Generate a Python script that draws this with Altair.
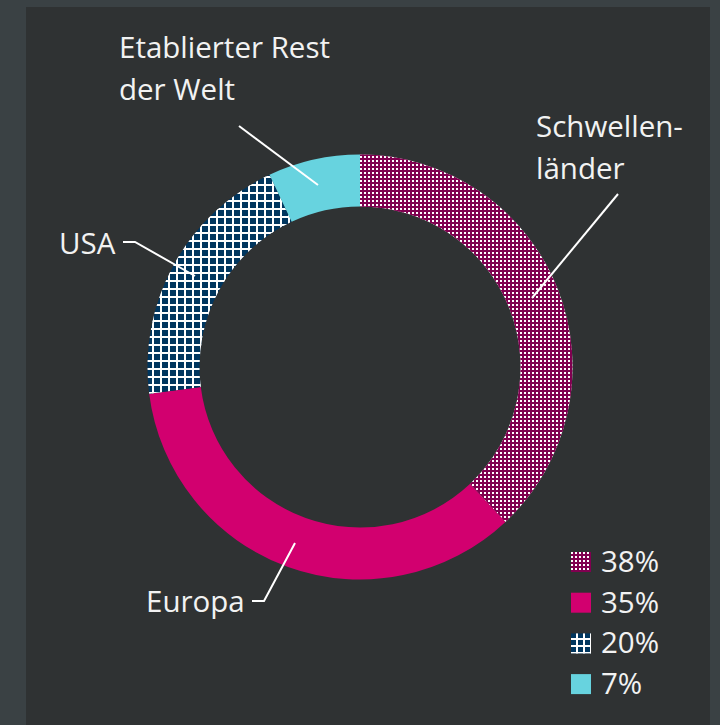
import altair as alt
import pandas as pd
import numpy as np

# ---------------- data ----------------
regions = ["Schwellenländer", "Europa", "USA", "Etablierter Rest der Welt"]
shares = [38, 35, 20, 7]
legend_labels = ["38%", "35%", "20%", "7%"]
callout_texts = ["Schwellen-\nländer", "Europa", "USA", "Etablierter Rest\nder Welt"]

# ---------------- layout / style ----------------
W, H = 720, 725
BG_OUTER = "#3a4144"
BG_PANEL = "#2f3233"
PANEL = (26, 710, 7, 725)
CX, CY = 360, 367
R_OUT, R_IN = 212.5, 160.5
MAGENTA = "#d2006f"
DOT_BASE = "#800050"
NAVY = "#00365f"
TEAL = "#67d3df"
WHITE = "#ffffff"
TEXT = "#f2f2f2"
CLEAR = "rgba(255,255,255,0)"
FONT = "Open Sans"
FS = 29.5
LINE_H = 41.5

callout_pos = [(536, 137), (146, 612), (59, 254), (119, 58)]
leader_pts = [
    [(618, 194), (532, 298)],
    [(252, 601), (264, 601), (295, 543)],
    [(123, 242), (135, 242), (195, 276)],
    [(239, 126), (318, 185)],
]
LEG_X, LEG_Y0, LEG_DY, LEG_SQ, LEG_TX = 571, 552, 40.7, 20, 601

XS = alt.Scale(domain=[0, W], range=[0, W], nice=False, zero=False)
YS = alt.Scale(domain=[0, H], range=[0, H], nice=False, zero=False)


def stripes(lo, hi, period, on_len, on_color, off_color, axis, phase=0.0):
    """linear gradient with hard stops -> stripes aligned to page pixels"""
    L = float(hi - lo)
    stops = []
    k = int(np.floor((lo - phase) / period)) - 1
    while phase + k * period < hi:
        s = phase + k * period
        for a, b, c in ((s, s + on_len, on_color), (s + on_len, s + period, off_color)):
            a2, b2 = max(a, lo), min(b, hi)
            if b2 > a2:
                stops.append({"offset": float(round((a2 - lo) / L, 5)), "color": c})
                stops.append({"offset": float(round((b2 - lo) / L, 5)), "color": c})
        k += 1
    return {
        "gradient": "linear",
        "stops": stops,
        "x1": 0, "y1": 0,
        "x2": 1 if axis == "x" else 0,
        "y2": 1 if axis == "y" else 0,
    }


cum = [float(v) for v in np.cumsum(shares)]
starts = [c - s for c, s in zip(cum, shares)]


def slice_bbox(i):
    t = np.linspace(starts[i], cum[i], 4000) / 100.0 * 2 * np.pi
    xs = np.concatenate([CX + r * np.sin(t) for r in (R_IN, R_OUT)])
    ys = np.concatenate([CY - r * np.cos(t) for r in (R_IN, R_OUT)])
    return float(xs.min()), float(xs.max()), float(ys.min()), float(ys.max())


slices = pd.DataFrame({"region": regions, "share": shares, "order": list(range(len(regions)))})
theta_scale = alt.Scale(domain=[0, 100], range=[0, float(2 * np.pi)])


def ring(region, fill):
    return (
        alt.Chart(slices)
        .transform_window(cum="sum(share)", sort=[alt.SortField("order")], frame=[None, 0])
        .transform_calculate(start="datum.cum - datum.share")
        .transform_filter(alt.datum.region == region)
        .mark_arc(radius=R_OUT, radius2=R_IN, fill=fill, strokeWidth=0)
        .encode(
            theta=alt.Theta("start:Q", scale=theta_scale, stack=None),
            theta2="cum:Q",
            x=alt.value(CX),
            y=alt.value(CY),
        )
    )


layers = []

# panel background
layers.append(
    alt.Chart(pd.DataFrame({"a": [0]}))
    .mark_rect(color=BG_PANEL)
    .encode(x=alt.value(PANEL[0]), x2=alt.value(PANEL[1]), y=alt.value(PANEL[2]), y2=alt.value(PANEL[3]))
)

# Schwellenländer: dotted (white dots on dark magenta)
x0, x1, y0, y1 = slice_bbox(0)
layers.append(ring(regions[0], WHITE))
layers.append(ring(regions[0], stripes(x0, x1, 4, 2, CLEAR, DOT_BASE, "x")))
layers.append(ring(regions[0], stripes(y0, y1, 4, 2, CLEAR, DOT_BASE, "y")))
# Europa: solid magenta
layers.append(ring(regions[1], MAGENTA))
# USA: white grid on navy
x0, x1, y0, y1 = slice_bbox(2)
layers.append(ring(regions[2], NAVY))
layers.append(ring(regions[2], stripes(x0, x1, 8, 2, WHITE, CLEAR, "x")))
layers.append(ring(regions[2], stripes(y0, y1, 8, 2, WHITE, CLEAR, "y")))
# Rest der Welt: teal
layers.append(ring(regions[3], TEAL))

# leader lines
rows = []
for i, pts in enumerate(leader_pts):
    for j, (px, py) in enumerate(pts):
        rows.append({"id": i, "seq": j, "x": px, "y": py})
leaders = pd.DataFrame(rows)
layers.append(
    alt.Chart(leaders)
    .mark_line(color=WHITE, strokeWidth=2)
    .encode(
        x=alt.X("x:Q", scale=XS, axis=None),
        y=alt.Y("y:Q", scale=YS, axis=None),
        detail="id:N",
        order="seq:Q",
    )
)

# callout labels
callouts = pd.DataFrame({
    "text": callout_texts,
    "x": [p[0] for p in callout_pos],
    "y": [p[1] for p in callout_pos],
})
layers.append(
    alt.Chart(callouts)
    .mark_text(align="left", baseline="alphabetic", font=FONT, fontSize=FS, color=TEXT,
               lineBreak="\n", lineHeight=LINE_H)
    .encode(x=alt.X("x:Q", scale=XS, axis=None), y=alt.Y("y:Q", scale=YS, axis=None), text="text:N")
)

# legend
leg = pd.DataFrame({
    "label": legend_labels,
    "x0": [LEG_X] * 4,
    "x1": [LEG_X + LEG_SQ] * 4,
    "y0": [LEG_Y0 + LEG_DY * i for i in range(4)],
    "y1": [LEG_Y0 + LEG_DY * i + LEG_SQ for i in range(4)],
    "tx": [LEG_TX] * 4,
    "ty": [LEG_Y0 + LEG_DY * i + LEG_SQ for i in range(4)],
    "i": list(range(4)),
})


def leg_rect(i, fill):
    return (
        alt.Chart(leg)
        .transform_filter(alt.datum.i == i)
        .mark_rect(fill=fill, strokeWidth=0)
        .encode(
            x=alt.X("x0:Q", scale=XS, axis=None), x2="x1:Q",
            y=alt.Y("y0:Q", scale=YS, axis=None), y2="y1:Q",
        )
    )


ly = [LEG_Y0 + LEG_DY * i for i in range(4)]
layers.append(leg_rect(0, WHITE))
layers.append(leg_rect(0, stripes(LEG_X, LEG_X + LEG_SQ, 4, 2, CLEAR, DOT_BASE, "x", phase=LEG_X)))
layers.append(leg_rect(0, stripes(ly[0], ly[0] + LEG_SQ, 4, 2, CLEAR, DOT_BASE, "y", phase=ly[0])))
layers.append(leg_rect(1, MAGENTA))
layers.append(leg_rect(2, NAVY))
layers.append(leg_rect(2, stripes(LEG_X, LEG_X + LEG_SQ, 7, 2, WHITE, CLEAR, "x", phase=LEG_X + 5)))
layers.append(leg_rect(2, stripes(ly[2], ly[2] + LEG_SQ, 7, 2, WHITE, CLEAR, "y", phase=ly[2] + 5)))
layers.append(leg_rect(3, TEAL))

layers.append(
    alt.Chart(leg)
    .mark_text(align="left", baseline="alphabetic", font=FONT, fontSize=FS, color=TEXT)
    .encode(x=alt.X("tx:Q", scale=XS, axis=None), y=alt.Y("ty:Q", scale=YS, axis=None), text="label:N")
)

chart = (
    alt.layer(*layers)
    .properties(width=W, height=H, background=BG_OUTER, padding=0, autosize="none")
    .configure_view(stroke=None)
)

chart.save("out.html", embed_options={"renderer": "svg", "actions": False})
